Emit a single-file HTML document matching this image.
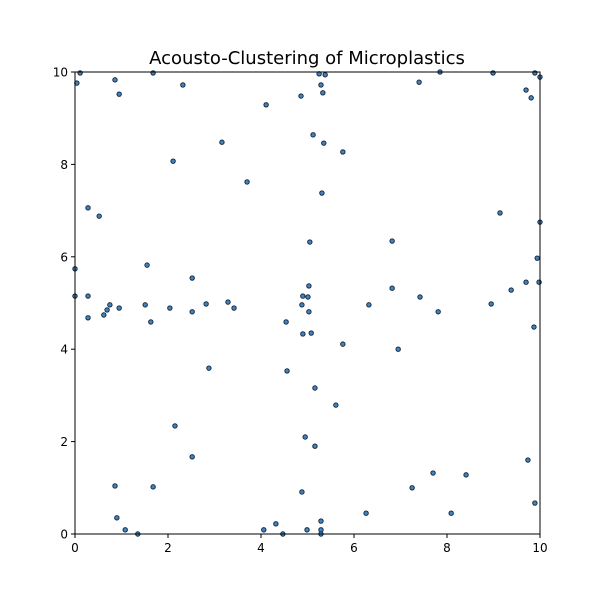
<!DOCTYPE html>
<html><head><meta charset="utf-8"><style>body{margin:0;background:#fff}svg{display:block}</style></head>
<body>
<svg id="chart" width="600" height="600" xmlns="http://www.w3.org/2000/svg" font-family="DejaVu Sans, Liberation Sans, sans-serif">
<rect width="600" height="600" fill="#fff"/>
<text x="307" y="64" text-anchor="middle" font-size="18">Acousto-Clustering of Microplastics</text>
<g id="ticks"></g>
<g id="points"></g>
<rect x="75" y="72" width="465" height="462" fill="none" stroke="#000" stroke-width="1"/>
</svg>
<script>
const xValues=[0.04,0.11,0.86,1.68,2.32,0.95,4.11,4.86,5.25,5.29,5.33,5.38,7.40,7.85,8.99,9.70,9.81,9.89,10.0,3.16,5.12,5.35,5.76,2.11,3.70,0.28,0.52,5.31,9.14,10.0,5.05,6.82,9.94,0,1.55,2.52,5.03,9.70,9.98,9.38,6.82,7.42,0,0.28,4.90,5.01,1.51,0.75,0.69,0.62,0.95,2.04,2.82,3.29,3.42,4.88,5.03,6.32,7.81,8.95,0.28,1.63,2.52,4.54,4.90,5.08,9.87,5.76,6.95,2.88,4.56,5.16,5.61,2.15,4.95,5.16,2.52,7.70,8.41,9.74,0.86,1.68,7.25,4.88,9.89,0.90,8.09,6.26,1.08,1.35,4.06,4.32,4.47,4.99,5.29,5.29,5.29];
const yValues=[9.76,9.98,9.83,9.98,9.72,9.52,9.29,9.48,9.96,9.72,9.55,9.94,9.78,10.0,9.98,9.61,9.44,9.98,9.89,8.48,8.64,8.46,8.27,8.07,7.62,7.06,6.88,7.38,6.95,6.75,6.32,6.34,5.97,5.74,5.82,5.54,5.37,5.45,5.45,5.28,5.32,5.13,5.15,5.15,5.15,5.13,4.96,4.96,4.85,4.74,4.89,4.89,4.98,5.02,4.89,4.96,4.81,4.96,4.81,4.98,4.68,4.59,4.81,4.59,4.33,4.35,4.48,4.11,4.00,3.59,3.53,3.16,2.79,2.34,2.10,1.90,1.67,1.32,1.28,1.60,1.04,1.02,1.00,0.91,0.67,0.35,0.45,0.45,0.09,0,0.09,0.22,0,0.09,0.28,0.09,0];
const xTicks=[0,2,4,6,8,10];
const yTicks=[0,2,4,6,8,10];
const NS="http://www.w3.org/2000/svg";
const sx=v=>75+v*46.5, sy=v=>534-v*46.2;
const tg=document.getElementById('ticks'), pg=document.getElementById('points');
function mk(t,a,p){const e=document.createElementNS(NS,t);for(const k in a)e.setAttribute(k,a[k]);p.appendChild(e);return e;}
xTicks.forEach(v=>{
  const l=mk('line',{x1:sx(v),x2:sx(v),y1:534,y2:538,stroke:'#000'},tg);
  
  
  const t=mk('text',{x:sx(v),y:552,'text-anchor':'middle','font-size':12},tg);t.textContent=v;
  
  
});
yTicks.forEach(v=>{
  const l=mk('line',{x1:71,x2:75,y1:sy(v),y2:sy(v),stroke:'#000'},tg);
  
  
  const t=mk('text',{x:68,y:sy(v)+4.5,'text-anchor':'end','font-size':12},tg);t.textContent=v;
  
  
});
xValues.forEach((x,i)=>{
  const c=mk('circle',{cx:sx(x),cy:sy(yValues[i]),r:2.2,fill:'#3f86c0','stroke':'#1a2a40','stroke-width':1},pg);
  
  
});
</script>
</body></html>
